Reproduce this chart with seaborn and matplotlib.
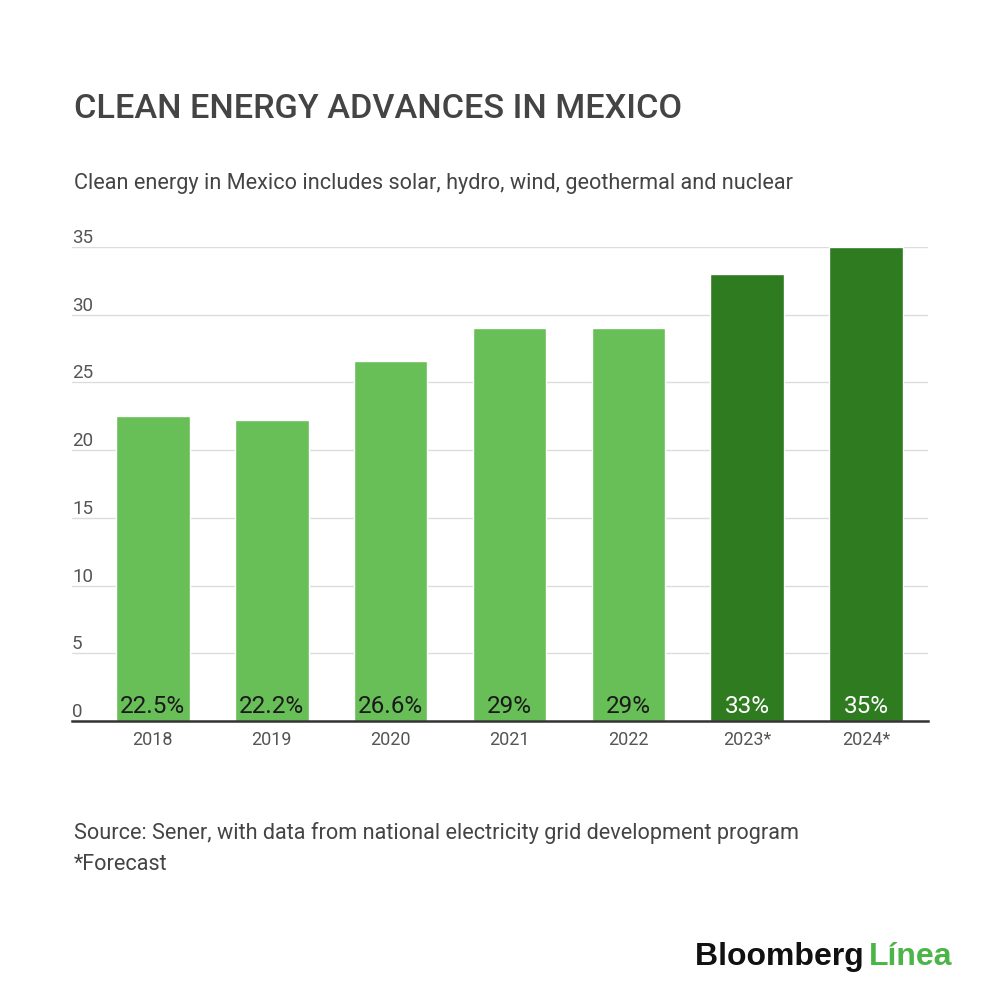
import pandas as pd
import matplotlib
matplotlib.use("Agg")
import matplotlib.pyplot as plt
import matplotlib.transforms as mtransforms
import seaborn as sns

# Chart data
years = ["2018", "2019", "2020", "2021", "2022", "2023*", "2024*"]
share = [22.5, 22.2, 26.6, 29, 29, 33, 35]
share_labels = ["22.5%", "22.2%", "26.6%", "29%", "29%", "33%", "35%"]
forecast = [False, False, False, False, False, True, True]
y_ticks = [0, 5, 10, 15, 20, 25, 30, 35]

light_green = "#68bf57"
dark_green = "#2f7b20"

df = pd.DataFrame({"year": years, "share": share})
palette = {y: (dark_green if f else light_green) for y, f in zip(years, forecast)}

sns.set_theme(style="white")
plt.rcParams["font.family"] = ["Roboto", "DejaVu Sans"]

fig = plt.figure(figsize=(10, 10), dpi=100)
ax = fig.add_axes([0.072, 0.279, 0.856, 0.474])

sns.barplot(data=df, x="year", y="share", hue="year", palette=palette,
            width=0.62, saturation=1, legend=False, ax=ax)

ax.set_xlim(-0.68, 6.52)
ax.set_ylim(0, 35)
ax.set_xlabel("")
ax.set_ylabel("")

# gridlines with labels sitting on top of them, left aligned
ax.set_yticks(y_ticks)
ax.set_yticklabels([])
ax.tick_params(axis="y", length=0)
for t in y_ticks[1:]:
    ax.axhline(t, color="#dcdcdc", lw=1, zorder=0)
trans = mtransforms.blended_transform_factory(ax.transAxes, ax.transData)
for t in y_ticks:
    ax.text(0.0, t, str(t), transform=trans, ha="left", va="bottom",
            fontsize=13.5, color="#555555")
ax.set_axisbelow(True)

for side in ["top", "right", "left"]:
    ax.spines[side].set_visible(False)
ax.spines["bottom"].set_color("#333333")
ax.spines["bottom"].set_linewidth(1.8)

ax.tick_params(axis="x", length=0, pad=7, labelsize=13, labelcolor="#555555")

# value labels at the foot of each bar
for i, (lab, f) in enumerate(zip(share_labels, forecast)):
    ax.text(i, 0.25, lab, ha="center", va="bottom", fontsize=17.5,
            color="white" if f else "#1a1a1a")

fig.text(0.074, 0.882, "CLEAN ENERGY ADVANCES IN MEXICO", fontsize=24.7,
         fontweight="medium", color="#444444", ha="left", va="baseline")
fig.text(0.074, 0.811,
         "Clean energy in Mexico includes solar, hydro, wind, geothermal and nuclear",
         fontsize=15.6, color="#444444", ha="left", va="baseline")
fig.text(0.074, 0.161,
         "Source: Sener, with data from national electricity grid development program",
         fontsize=15.6, color="#444444", ha="left", va="baseline")
fig.text(0.074, 0.130, "*Forecast", fontsize=15.6, color="#444444",
         ha="left", va="baseline")

# logo
logo = fig.text(0.695, 0.035, "Bloomberg ", fontsize=23, fontweight="black",
                color="#111111", ha="left", va="baseline",
                family=["Liberation Sans", "DejaVu Sans"])
fig.canvas.draw()
bb = logo.get_window_extent().transformed(fig.transFigure.inverted())
fig.text(bb.x1 - 0.004, 0.035, "Línea", fontsize=23, fontweight="bold",
         color="#4bb548", ha="left", va="baseline",
         family=["Liberation Sans", "DejaVu Sans"])

fig.savefig("out.png", dpi=100, facecolor="white")
